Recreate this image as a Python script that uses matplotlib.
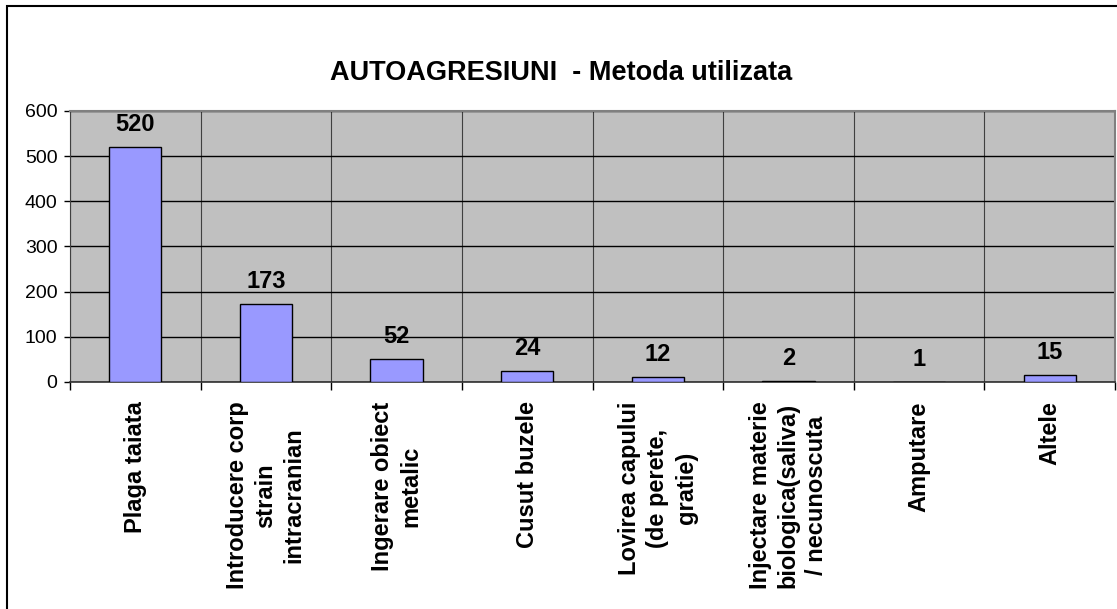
import matplotlib
matplotlib.use("Agg")
import matplotlib.pyplot as plt
from matplotlib.patches import Rectangle
import numpy as np

plt.rcParams['font.family'] = ['Liberation Sans', 'DejaVu Sans']

categories = ["Plaga taiata", "Introducere corp\nstrain\nintracranian", "Ingerare obiect\nmetalic",
              "Cusut buzele", "Lovirea capului\n(de perete,\ngratie)",
              "Injectare materie\nbiologica(saliva)\n/ necunoscuta", "Amputare", "Altele"]
values = [520, 173, 52, 24, 12, 2, 1, 15]
yticks = [0, 100, 200, 300, 400, 500, 600]
title = "AUTOAGRESIUNI  - Metoda utilizata"

fig = plt.figure(figsize=(11.17, 6.09), dpi=100)
fig.patches.append(Rectangle((7/1117, -0.01), 1.2, 1 - 6/609 + 0.01, transform=fig.transFigure,
                             fill=False, edgecolor='black', linewidth=1.5, zorder=10))
ax = fig.add_axes([70/1117, 1 - 382/609, (1115 - 70)/1117, (382 - 111)/609])
ax.set_facecolor('#C0C0C0')
x = np.arange(len(categories))
bars = ax.bar(x, values, width=0.4, color='#9999FF', edgecolor='black', linewidth=1, zorder=3)
for xi, v in zip(x, values):
    ax.annotate(str(v), (xi, v), xytext=(0, 16), textcoords='offset pixels',
                ha='center', va='baseline', fontsize=17, fontweight='bold', zorder=4)

ax.set_xlim(-0.5, len(categories) - 0.5)
ax.set_ylim(0, 600)
ax.set_yticks(yticks)
ax.set_yticklabels([str(t) for t in yticks], fontsize=14)
ax.yaxis.grid(True, color='black', linewidth=1, zorder=1)
ax.set_xticks(x)
ax.set_xticklabels(categories, rotation=90, ha='center', va='top', multialignment='center',
                   fontsize=17, fontweight='bold', linespacing=1.3)
ax.tick_params(axis='x', which='major', length=0, pad=14)
ax.set_xticks(np.arange(len(categories) + 1) - 0.5, minor=True)
ax.tick_params(axis='x', which='minor', length=6, width=1, color='black', direction='out')
ax.xaxis.grid(True, which='minor', color='#404040', linewidth=0.8, zorder=1)
ax.tick_params(axis='y', length=4, width=1, direction='out', pad=5)
ax.set_axisbelow(True)
for s in ['top', 'right']:
    ax.spines[s].set_color('#808080')
    ax.spines[s].set_linewidth(1.5)
ax.spines['left'].set_color('#404040')
ax.spines['bottom'].set_color('#303030')
ax.spines['bottom'].set_linewidth(1.2)

fig.text(561/1117, 1 - 73/609, title, ha='center', va='center', fontsize=19.5, fontweight='bold')

fig.savefig("out.png", dpi=100)
